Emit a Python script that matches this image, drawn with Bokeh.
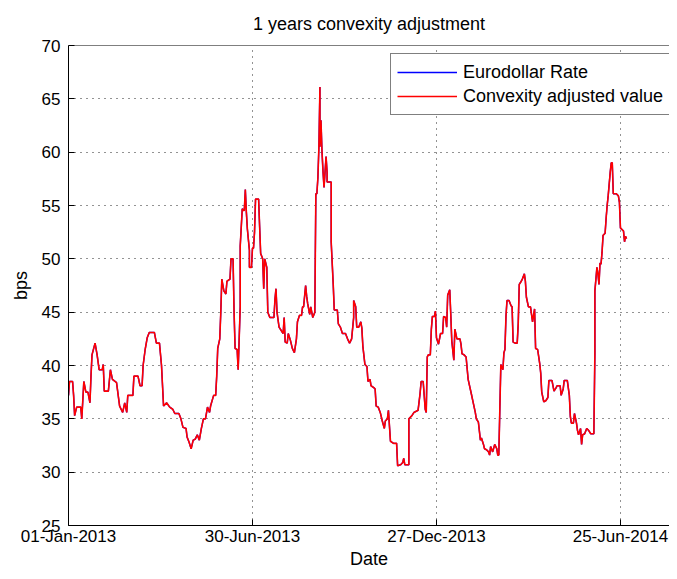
import pandas as pd
from bokeh.plotting import figure
from bokeh.models import (FixedTicker, DatetimeTickFormatter, Range1d, Legend,
                          LegendItem, Span)
from bokeh.embed import file_html
from bokeh.resources import INLINE

# ---------------- data ----------------
start_date = "2013-01-01"
x_end_days = 588.0          # visible span of the x axis in days

day_offsets = [
    0, 1, 4, 5, 6, 8, 12, 13, 15, 17, 19, 21, 22, 23, 26, 28, 30, 33, 34, 35,
    39, 41, 43, 47, 50, 53, 55, 57, 58, 63, 64, 68, 70, 72, 73, 75, 77, 79, 84, 86,
    89, 91, 93, 96, 99, 102, 104, 108,
    110, 112, 115, 116, 118, 120, 122, 124, 126, 128, 130, 132, 134, 136, 138, 139,
    142, 144, 145, 146, 148, 149, 150, 152, 154, 155, 158, 159, 161, 162, 163, 165,
    166, 168, 168, 170, 172, 173, 174, 175, 177, 177, 179, 180, 181, 182, 183, 186,
    187, 188, 190, 191, 192, 194, 195, 197, 201, 202, 203, 204, 206, 210,
    211, 212, 214, 215, 217, 219, 221, 223, 224, 226, 228, 229, 230, 232, 233, 234,
    236, 237, 239, 241, 242, 243, 244, 245, 246, 246, 247, 248, 249, 250, 252, 253,
    253, 257, 257, 259, 260, 263, 264, 266, 268, 271, 273, 275, 277, 279, 279, 281,
    282, 284, 286, 287, 288, 290, 292, 293, 295, 296, 299, 300, 301, 303, 305, 307,
    309, 310,
    312, 313, 315, 318, 321, 322, 325, 327, 328, 329, 333, 333, 336, 338, 342, 344,
    345, 347, 349, 350, 351, 352, 354, 355, 356, 358, 359, 360, 362, 364, 366, 367,
    369, 370, 371, 373, 374, 375, 377, 378, 380, 383, 384, 385, 387, 389, 391, 394,
    396, 398, 399, 401, 403, 404, 406, 407, 409, 411, 412, 413, 415, 417, 419, 420,
    421, 422, 423,
    425, 426, 427, 428, 429, 431, 433, 434, 435, 437, 439, 440, 441, 443, 444, 446,
    447, 448, 450, 452, 454, 455, 456, 457, 459, 461, 462, 463, 465, 467, 469, 470,
    473, 475, 477, 478, 481, 482, 484, 485, 488, 490, 491, 492, 494, 495, 497, 498,
    499, 501, 502, 503, 505, 507, 509, 511, 514, 515, 515, 517, 518, 519, 520, 521,
    522, 523, 525, 526, 527, 528, 530, 531, 532, 533, 536, 538, 539, 540, 542, 543,
    544, 545, 546,
]

eurodollar_rate = [
    37.2, 38.5, 38.5, 37.2, 35.3, 36.1, 36.1, 35.0, 38.5, 37.5, 37.5, 36.5, 39.0, 41.0, 42.1, 41.0, 39.6, 39.6, 40.1, 37.6,
    37.6, 39.6, 38.7, 38.4, 36.2, 35.6, 36.5, 35.6, 37.2, 37.2, 39.0, 39.0, 38.1, 38.1, 40.0, 41.5, 42.6, 43.1, 43.1, 42.1,
    42.1, 40.0, 36.2, 36.5, 36.1, 35.9, 35.5, 35.5,
    35.0, 34.2, 34.1, 33.3, 32.8, 32.2, 33.0, 33.1, 33.5, 33.0, 34.1, 35.0, 35.0, 36.1, 35.6, 36.2,
    37.2, 37.2, 39.0, 41.6, 42.5, 45.0, 48.1, 47.0, 46.7, 47.9, 48.1, 50.0, 50.0, 45.0, 41.6, 41.5,
    39.6, 45.5, 51.2, 54.7, 54.5, 56.5, 54.4, 52.8, 50.8, 49.2, 49.2, 51.0, 51.0, 52.5, 55.6, 55.6,
    53.0, 50.5, 50.0, 47.2, 50.0, 49.2, 45.0, 44.5, 44.5, 46.2, 47.2, 45.0, 43.6, 43.0,
    44.5, 42.2, 42.1, 43.0, 42.4, 41.6, 41.2, 42.5, 44.1, 44.7, 44.7, 45.5, 45.5, 47.5, 46.5, 45.8,
    44.8, 45.5, 44.5, 45.0, 56.1, 56.1, 57.6, 60.5, 66.1, 60.5, 63.0, 60.1, 58.2, 56.7, 59.6, 58.1,
    57.2, 57.2, 51.6, 47.6, 45.2, 45.2, 43.9, 43.6, 43.0, 43.0, 42.5, 42.1, 42.5, 44.5, 46.1, 45.5,
    43.6, 43.6, 44.1, 43.5, 41.8, 40.1, 39.9, 38.5, 38.7, 38.1, 37.9, 37.8, 36.2, 36.1, 35.6, 34.8,
    34.1, 34.8,
    35.0, 35.8, 32.9, 32.7, 32.7, 30.6, 30.7, 30.9, 31.3, 30.7, 30.7, 35.0, 35.3, 35.6, 35.8, 37.4,
    38.5, 38.5, 35.9, 35.6, 40.8, 41.0, 41.0, 43.4, 44.6, 44.6, 45.1, 42.6, 42.0, 43.0, 43.0, 44.6,
    44.5, 43.6, 46.6, 47.1, 44.8, 42.3, 40.5, 43.4, 42.5, 42.5, 42.0, 41.1, 41.0, 40.8, 38.7, 37.4,
    36.5, 35.6, 35.0, 34.7, 33.0, 33.2, 32.6, 32.2, 32.1, 31.9, 31.6, 32.4, 31.9, 32.6, 32.2, 31.6,
    31.6, 35.9, 40.1,
    39.6, 41.2, 41.5, 44.6, 46.1, 46.1, 45.6, 45.5, 42.2, 42.1, 42.1, 43.9, 47.6, 47.9, 48.1, 48.6,
    47.9, 46.4, 45.5, 45.5, 44.1, 44.7, 45.3, 41.6, 41.5, 40.2, 39.3, 37.5, 36.6, 36.7, 37.0, 38.6,
    38.6, 37.6, 37.9, 38.1, 38.1, 37.2, 37.8, 38.6, 38.6, 37.2, 35.2, 34.6, 34.6, 35.5, 34.6, 33.9,
    33.5, 34.1, 32.6, 33.5, 33.6, 34.1, 33.9, 33.6, 33.6, 41.2, 47.0, 49.2, 48.6, 47.6, 49.6, 49.5,
    50.6, 52.2, 52.4, 53.8, 55.0, 55.9, 58.1, 59.0, 59.0, 56.1, 56.1, 55.9, 55.3, 52.9, 52.7, 52.6,
    51.6, 52.1, 51.9,
]

# the two series coincide at the resolution of the picture
convexity_adjusted = list(eurodollar_rate)

tick_dates = ["2013-01-01", "2013-06-30", "2013-12-27", "2014-06-25"]
y_ticks = [25, 30, 35, 40, 45, 50, 55, 60, 65, 70]
y_min, y_max = 25, 70

series_labels = ["Eurodollar Rate", "Convexity adjusted value"]
series_colors = ["#0000ff", "#ff0000"]

# ---------------- build ----------------
start = pd.Timestamp(start_date)
dates = start + pd.to_timedelta(day_offsets, unit="D")
start_ms = start.value / 1e6
end_ms = (start + pd.Timedelta(days=x_end_days)).value / 1e6
tick_ms = [pd.Timestamp(d).value / 1e6 for d in tick_dates]

FONT = "Liberation Sans"

p = figure(width=669, height=571, x_axis_type="datetime",
           output_backend="svg", toolbar_location=None,
           x_range=Range1d(start_ms, end_ms), y_range=Range1d(y_min, y_max),
           min_border_left=68, min_border_right=0, min_border_top=44,
           min_border_bottom=44, title="1 years convexity adjustment")

p.background_fill_color = "white"
p.border_fill_color = "white"
p.outline_line_color = None

p.title.align = "center"
p.title.text_font = FONT
p.title.text_font_size = "18px"
p.title.text_font_style = "normal"
p.title.text_color = "black"
p.title.standoff = 23

r_blue = p.line(dates, eurodollar_rate, line_color=series_colors[0], line_width=1.4)
r_red = p.line(dates, convexity_adjusted, line_color=series_colors[1], line_width=1.6)

xt = FixedTicker(ticks=tick_ms)
yt = FixedTicker(ticks=y_ticks)
fmt = "%d-%b-%Y"
p.xaxis.ticker = xt
p.xaxis.formatter = DatetimeTickFormatter(
    microseconds=fmt, milliseconds=fmt, seconds=fmt, minsec=fmt, minutes=fmt,
    hourmin=fmt, hours=fmt, days=fmt, months=fmt, years=fmt)
p.yaxis.ticker = yt
p.xgrid.ticker = xt
p.ygrid.ticker = yt

for ax in (p.xaxis, p.yaxis):
    ax.axis_line_color = "black"
    ax.axis_line_width = 1
    ax.major_tick_line_color = "black"
    ax.major_tick_in = 6
    ax.major_tick_out = 0
    ax.minor_tick_line_color = None
    ax.major_label_text_font = FONT
    ax.major_label_text_font_size = "17px"
    ax.major_label_text_color = "black"
    ax.axis_label_text_font = FONT
    ax.axis_label_text_font_size = "18px"
    ax.axis_label_text_font_style = "normal"
    ax.axis_label_text_color = "black"

p.xaxis.axis_label = "Date"
p.yaxis.axis_label = "bps"
p.xaxis.major_label_standoff = 1
p.xaxis.axis_label_standoff = 0
p.yaxis.major_label_standoff = 8
p.yaxis.axis_label_standoff = 8

for g in (p.xgrid, p.ygrid):
    g.grid_line_color = "black"
    g.grid_line_dash = "1 5"
    g.grid_line_width = 1
    g.grid_line_alpha = 0.85

# top border of the axes box
p.add_layout(Span(location=y_max, dimension="width", line_color="black", line_width=1))

legend = Legend(items=[LegendItem(label=series_labels[0], renderers=[r_blue]),
                       LegendItem(label=series_labels[1], renderers=[r_red])],
                location=(322, 410))
legend.border_line_color = "black"
legend.border_line_width = 1
legend.background_fill_color = "white"
legend.background_fill_alpha = 1
legend.label_text_font = FONT
legend.label_text_font_size = "18px"
legend.label_text_color = "black"
legend.glyph_width = 60
legend.glyph_height = 24
legend.label_height = 24
legend.label_standoff = 6
legend.padding = 6
legend.spacing = 0
legend.margin = 0
p.add_layout(legend)

open("out.html", "w").write(file_html(p, INLINE))
